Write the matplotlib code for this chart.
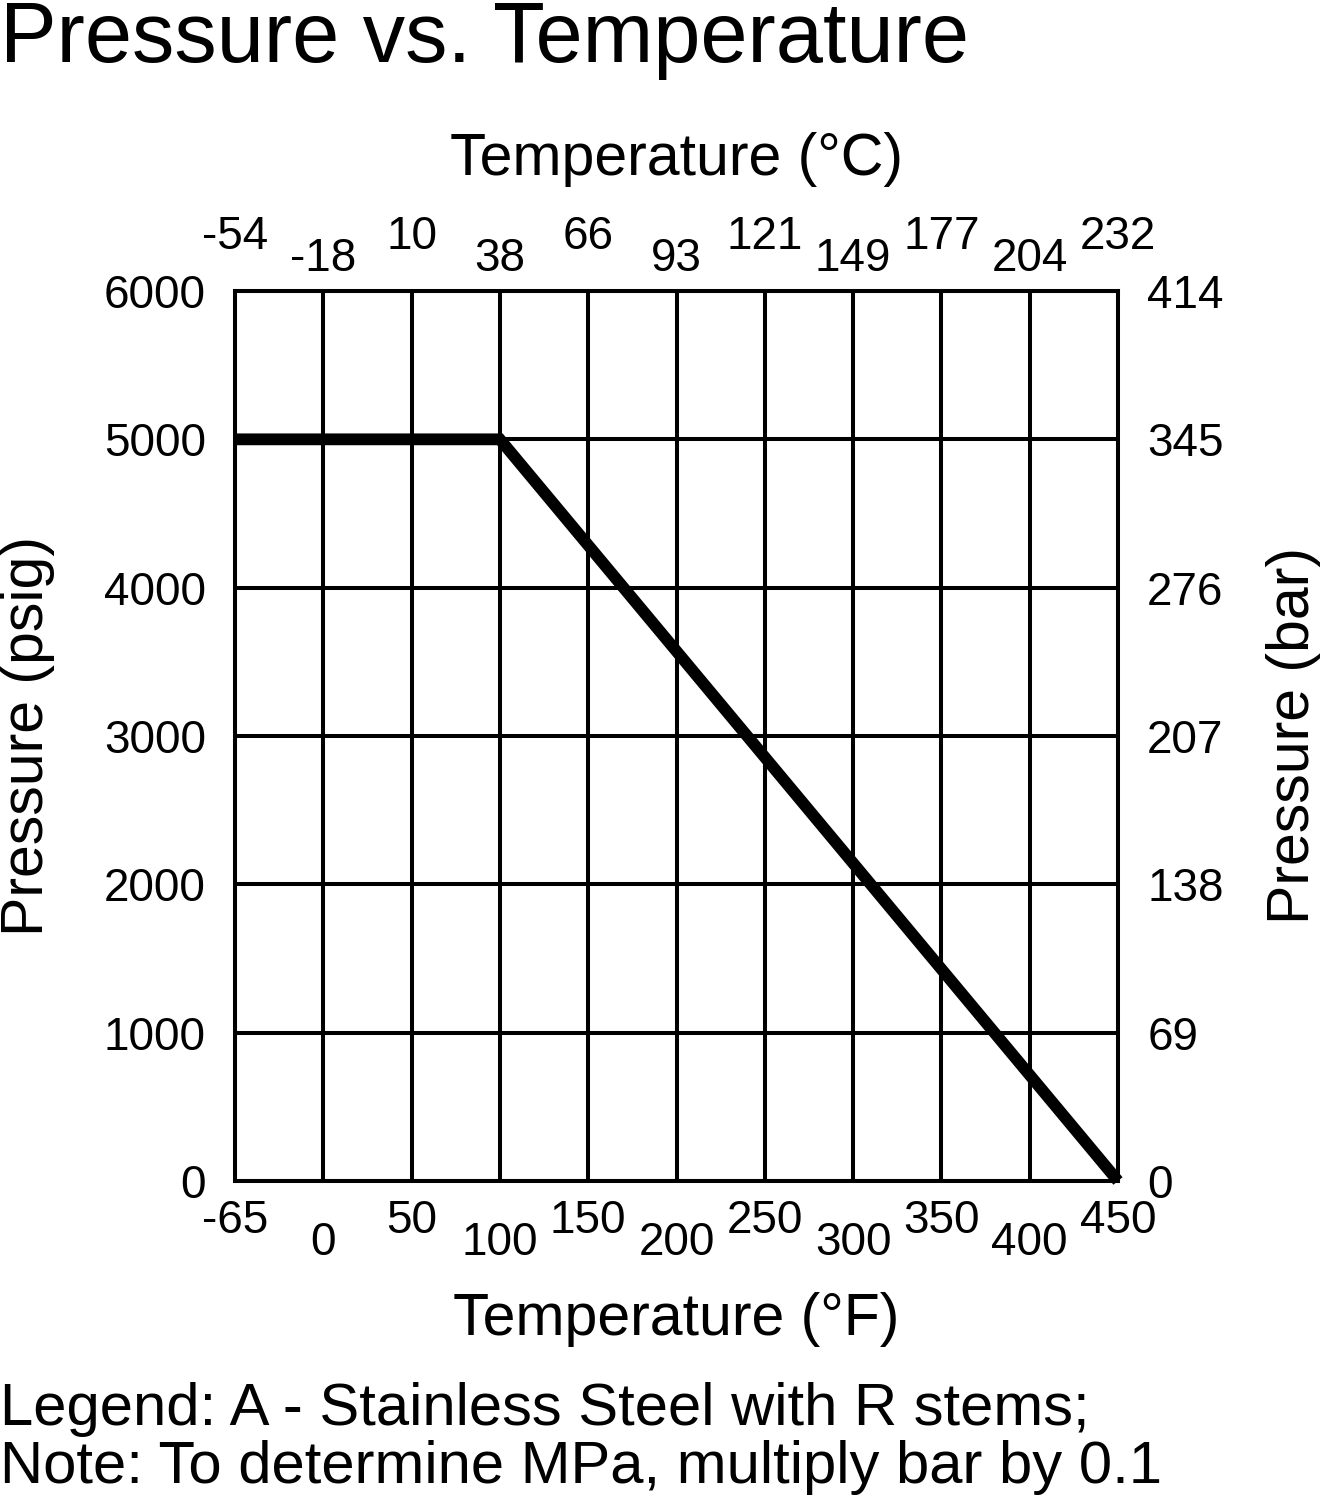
import numpy as np
import matplotlib
matplotlib.use("Agg")
import matplotlib.pyplot as plt

# ---- data ----
temp_f_ticks = [-65, 0, 50, 100, 150, 200, 250, 300, 350, 400, 450]
temp_c_ticks = [-54, -18, 10, 38, 66, 93, 121, 149, 177, 204, 232]
psig_ticks = [0, 1000, 2000, 3000, 4000, 5000, 6000]
bar_ticks = [0, 69, 138, 207, 276, 345, 414]
curve_temp_f = [-65, 100, 450]
curve_psig = [5000, 5000, 0]

title = "Pressure vs. Temperature"
notes = ["Legend: A - Stainless Steel with R stems;",
         "Note: To determine MPa, multiply bar by 0.1"]

plt.rcParams['font.family'] = ['Liberation Sans', 'DejaVu Sans']

W, H = 1323, 1498
fig = plt.figure(figsize=(W / 100, H / 100), dpi=100)

def fx(px):
    return px / W

def fy(py):
    return 1 - py / H

left, right, top, bottom = 235, 1118, 291, 1181
ax = fig.add_axes([fx(left), fy(bottom), fx(right) - fx(left), fy(top) - fy(bottom)])

pos = np.arange(len(temp_f_ticks))
curve_x = np.interp(curve_temp_f, temp_f_ticks, pos)

lw_grid = 2.9
tick_fs = 33
ax.plot(curve_x, curve_psig, color='black', lw=8.5, solid_capstyle='butt',
        solid_joinstyle='miter', zorder=5, clip_on=False)

ax.set_xlim(0, len(temp_f_ticks) - 1)
ax.set_ylim(0, 6000)
ax.set_xticks(pos)
ax.set_xticklabels([str(v) for v in temp_f_ticks])
ax.set_yticks(psig_ticks)
ax.set_yticklabels([str(v) for v in psig_ticks])
ax.grid(True, color='black', lw=lw_grid, zorder=1)
ax.set_axisbelow(True)
for s in ax.spines.values():
    s.set_linewidth(lw_grid)
ax.tick_params(length=0, labelsize=tick_fs)
ax.tick_params(axis='y', pad=21)
for i, t in enumerate(ax.xaxis.get_major_ticks()):
    t.set_pad(13 if i % 2 == 0 else 29)

axt = ax.twiny()
axt.set_xlim(ax.get_xlim())
axt.set_xticks(pos)
axt.set_xticklabels([str(v) for v in temp_c_ticks])
axt.tick_params(length=0, labelsize=tick_fs)
for i, t in enumerate(axt.xaxis.get_major_ticks()):
    t.set_pad(23 if i % 2 == 0 else 7)

axr = ax.twinx()
axr.set_ylim(ax.get_ylim())
axr.set_yticks(psig_ticks)
axr.set_yticklabels([str(v) for v in bar_ticks])
axr.tick_params(length=0, labelsize=tick_fs, pad=21)
for a in (axt, axr):
    for s in a.spines.values():
        s.set_visible(False)

# texts
fig.text(fx(0), fy(62), title, fontsize=61, ha='left', va='baseline')
cx = fx((left + right) / 2)
fig.text(cx, fy(175), "Temperature (°C)", fontsize=42.5, ha='center', va='baseline')
fig.text(cx, fy(1335), "Temperature (°F)", fontsize=42.5, ha='center', va='baseline')
cy = fy((top + bottom) / 2)
fig.text(fx(0), cy, "Pressure (psig)", fontsize=42.5, rotation=90, ha='left', va='center')
fig.text(fx(1266), cy, "Pressure (bar)", fontsize=42.5, rotation=90, ha='left', va='center')
fig.text(fx(0), fy(1425), notes[0], fontsize=43, ha='left', va='baseline')
fig.text(fx(0), fy(1483), notes[1], fontsize=43, ha='left', va='baseline')

fig.savefig("out.png", dpi=100, facecolor='white')
